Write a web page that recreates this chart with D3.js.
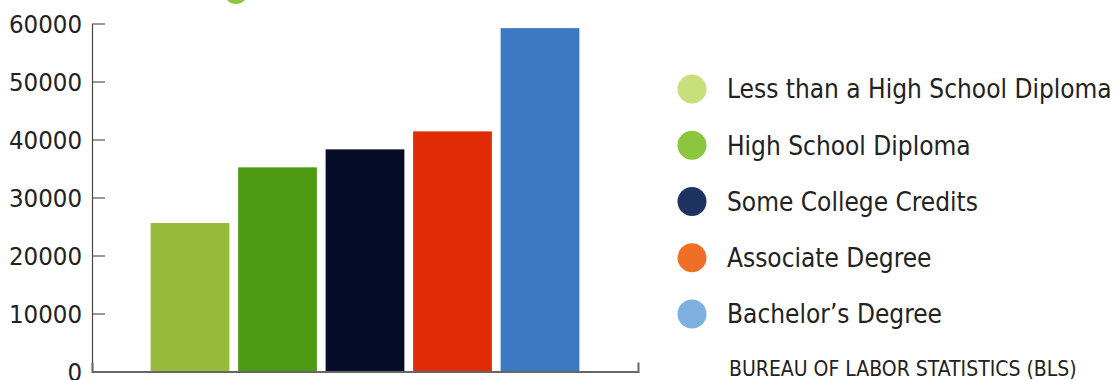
<!DOCTYPE html>
<html><head><meta charset="utf-8">
<script src="https://cdn.jsdelivr.net/npm/d3@7"></script>
<style>
html,body{margin:0;padding:0;background:#fff;overflow:hidden}
text{font-family:'DejaVu Sans Condensed','DejaVu Sans',sans-serif;font-stretch:condensed}
</style></head>
<body><svg id="c" width="1120" height="380"></svg>
<script>
const categories = ["Less than a High School Diploma","High School Diploma","Some College Credits","Associate Degree","Bachelor’s Degree"];
const values = [25600, 35200, 38300, 41400, 59200];
const barColors = ["#99bb3a","#4c9a11","#040c27","#df2c07","#3c79c2"];
const legendColors = ["#c8df7c","#8cc63f","#1d3462","#f06f26","#7db0de"];
const yTicks = [0,10000,20000,30000,40000,50000,60000];
const source = "BUREAU OF LABOR STATISTICS (BLS)";

const FONT = "'DejaVu Sans Condensed','DejaVu Sans',sans-serif";
const svg = d3.select("#c");
const x = d3.scaleBand().domain(categories).range([92,638]).paddingInner(0.1).paddingOuter(0.67);
const y = d3.scaleLinear().domain([0,60000]).range([371.5,23.5]);

// decorative partially hidden circle at top
svg.append("circle").attr("cx",236).attr("cy",-8).attr("r",12).attr("fill","#8cc63f");

svg.append("g").selectAll("rect").data(values).join("rect")
  .attr("x",(d,i)=>x(categories[i])).attr("width",x.bandwidth())
  .attr("y",d=>y(d)).attr("height",d=>y(0)-y(d)).attr("fill",(d,i)=>barColors[i]);

const ya = svg.append("g").attr("transform","translate(92,0)")
  .call(d3.axisLeft(y).tickValues(yTicks).tickFormat(d3.format("d")).tickSizeInner(-13).tickSizeOuter(0).tickPadding(10));
ya.select(".domain").attr("stroke","#444").attr("stroke-width",1.2);
ya.selectAll(".tick line").attr("stroke","#555").attr("stroke-width",1.2);
ya.selectAll(".tick text").attr("font-size",25.5).attr("fill","#222").attr("dy","0.36em")
  .style("font-family",FONT);

const xa = svg.append("g").attr("transform","translate(0,371.5)")
  .call(d3.axisBottom(x).tickValues([]).tickSizeOuter(-9));
xa.select(".domain").attr("stroke","#666").attr("stroke-width",2);

const ly = d3.scalePoint().domain(categories).range([89,314]);
const lg = svg.append("g").selectAll("g").data(categories).join("g")
  .attr("transform",d=>`translate(692,${ly(d)})`);
lg.append("circle").attr("r",14.5).attr("fill",(d,i)=>legendColors[i]);
lg.append("text").attr("x",35).attr("dy","0.36em").attr("font-size",26).attr("fill","#222")
  .style("font-family",FONT).text(d=>d);

svg.append("text").attr("x",729).attr("y",376).attr("font-size",21).attr("fill","#222")
  .style("font-family",FONT).text(source);
</script></body></html>
